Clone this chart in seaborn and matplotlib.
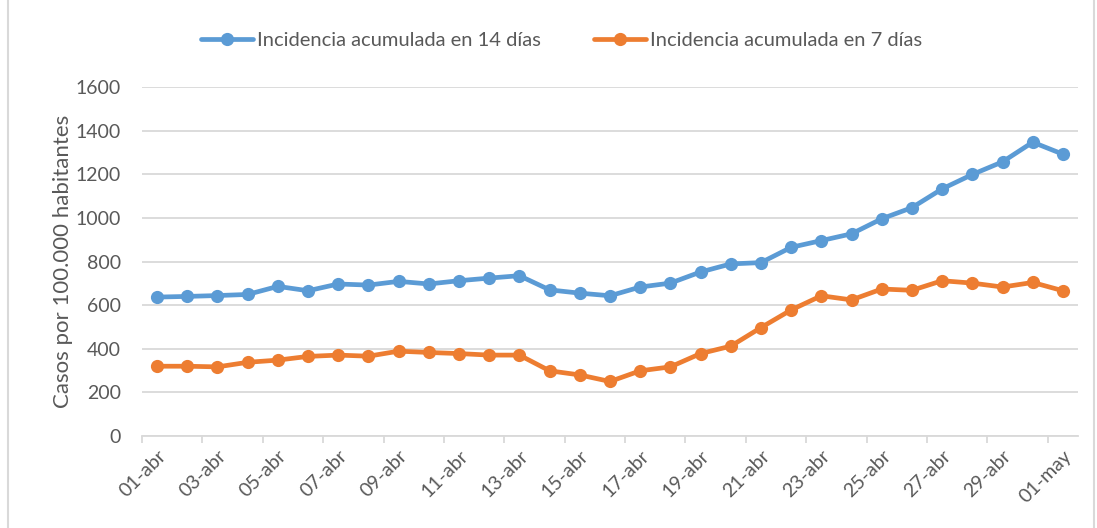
import pandas as pd
import matplotlib
matplotlib.use("Agg")
import matplotlib.pyplot as plt
import seaborn as sns
from matplotlib.ticker import FixedLocator

sns.set_theme(style="white")
plt.rcParams['font.family'] = ['Lato', 'DejaVu Sans']

days = [f"{d:02d}-abr" for d in range(1, 31)] + ["01-may"]
ia14 = [637, 640, 644, 649, 686, 666, 697, 692, 709, 697, 712, 724, 735, 670, 655, 643,
        683, 701, 752, 789, 795, 865, 896, 927, 996, 1047, 1133, 1199, 1257, 1347, 1292]
ia7 = [320, 320, 317, 338, 348, 365, 371, 366, 389, 383, 378, 371, 371, 299, 280, 250,
       299, 317, 378, 412, 497, 578, 643, 624, 674, 668, 712, 701, 683, 704, 666]
series_names = ["Incidencia acumulada en 14 días", "Incidencia acumulada en 7 días"]
colors = ["#5B9BD5", "#ED7D31"]

df = pd.DataFrame({
    "pos": list(range(len(days))) * 2,
    "valor": ia14 + ia7,
    "serie": [series_names[0]] * len(days) + [series_names[1]] * len(days),
})

text_color = "#595959"
grid_color = "#D9D9D9"

fig = plt.figure(figsize=(10.97, 5.28), dpi=100)
ax = fig.add_axes([0.1294, 0.1742, 0.8533, 0.661])

sns.lineplot(data=df, x="pos", y="valor", hue="serie", palette=colors,
             marker="o", markersize=9.5, markeredgewidth=0, linewidth=3.4, ax=ax)

ax.set_xlim(-0.5, len(days) - 0.5)
ax.set_ylim(0, 1600)
ax.set_yticks(range(0, 1601, 200))
ax.yaxis.grid(True, color=grid_color, linewidth=1.3)
ax.xaxis.grid(False)

label_pos = list(range(0, len(days), 2))
ax.set_xticks(label_pos)
ax.set_xticklabels([days[i] for i in label_pos], rotation=45, ha="right",
                   rotation_mode="anchor", color=text_color, fontsize=14)
ax.xaxis.set_minor_locator(FixedLocator([p - 0.5 for p in label_pos]))
ax.tick_params(axis="x", which="major", length=0, pad=8)
ax.tick_params(axis="x", which="minor", length=5, width=1.3, color=grid_color, bottom=True)
ax.tick_params(axis="y", length=0, pad=15, labelcolor=text_color, labelsize=14)

for s in ["top", "right", "left"]:
    ax.spines[s].set_visible(False)
ax.spines["bottom"].set_color(grid_color)
ax.spines["bottom"].set_linewidth(1.3)

ax.set_xlabel("")
ax.set_ylabel("Casos por 100.000 habitantes", color=text_color, fontsize=16, labelpad=2)

handles, labels = ax.get_legend_handles_labels()
ax.legend(handles, labels, loc="center", bbox_to_anchor=(0.512, 0.924),
          bbox_transform=fig.transFigure, ncol=2, frameon=False, fontsize=14.5,
          labelcolor=text_color, handlelength=2.6, columnspacing=2.6, handletextpad=0.2)

fig.patches.append(plt.Rectangle((0.007, -0.01), 0.99, 1.02, transform=fig.transFigure,
                                 fill=False, edgecolor=grid_color, linewidth=1.5))

fig.savefig("out.png", dpi=100)
